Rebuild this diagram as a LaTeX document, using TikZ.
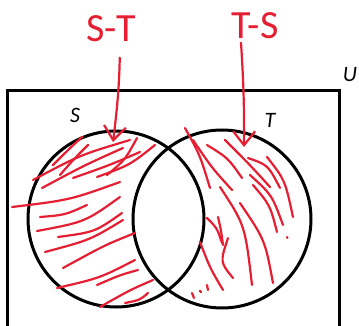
\documentclass[tikz,border=0pt]{standalone}
\usepackage{fontspec}
\usepackage{tikz}
\usetikzlibrary{arrows.meta}
\newfontfamily\vennfont{Carlito}
\definecolor{pen}{RGB}{230,30,50}

\tikzset{
  setline/.style={line width=3pt, black},
  setlabel/.style={font=\vennfont\itshape\fontsize{22}{24}\selectfont},
  scribble/.style={pen, line width=2.2pt, line cap=round},
  penlabel/.style={pen, font=\vennfont\fontsize{40}{44}\selectfont},
  penarrow/.style={pen, line width=2.2pt, line cap=round, -{Straight Barb[length=14pt,width=22pt]}}
}

\begin{document}
\begin{tikzpicture}[x=1pt, y=-1pt]
    \clip (0,0) rectangle (359,326);

    % Universe and the two sets
    \draw[setline] (7,91) rectangle (339,345);
    \draw[setline] (116,219) circle[radius=88pt];
    \draw[setline] (222,219) circle[radius=89pt];

    \node[setlabel] (lblS) at (75,115) {S};
    \node[setlabel] (lblT) at (270,120) {T};
    \node[setlabel] (lblU) at (350,75) {U};

    % Shading of S-T
    \foreach \ax/\ay/\bx/\by/\cx/\cy in {82/137/68/150/53/165, 33/180/80/155/130/140, 42/188/85/165/123/148,
        73/178/110/165/140/152, 97/177/130/165/155/145, 107/175/125/160/137/138,
        88/145/73/160/60/175, 12/207/70/200/120/182, 40/217/65/215/87/205,
        37/231/85/222/120/197, 58/237/95/232/122/213, 45/252/90/240/123/220,
        63/268/105/245/135/233, 57/288/100/278/135/260, 97/285/120/275/138/270,
        100/307/130/290/153/280, 125/303/140/300/148/293}
        \draw[scribble] (\ax,\ay) .. controls (\bx,\by) .. (\cx,\cy);

    % Shading of T-S
    \foreach \ax/\ay/\bx/\by/\cx/\cy in {185/128/200/155/210/188, 193/140/212/168/232/190, 207/145/228/158/242/178,
        225/140/250/165/270/187, 248/158/268/165/280/188, 267/157/285/180/293/217,
        250/175/272/195/283/225, 253/185/270/205/277/232, 220/187/245/225/252/285,
        240/203/265/240/273/283, 207/218/217/228/222/243, 218/217/221/230/223/245,
        228/238/220/262/233/278, 200/242/210/268/223/290}
        \draw[scribble] (\ax,\ay) .. controls (\bx,\by) .. (\cx,\cy);
    \foreach \ax/\ay/\cx/\cy in {192/293/194/298, 200/291/201/292, 207/285/208/290, 287/237/287.5/238}
        \draw[scribble] (\ax,\ay) -- (\cx,\cy);

    % Handwritten labels and arrows
    \node[penlabel] (diffST) at (111,29) {S-T};
    \node[penlabel] (diffTS) at (255,26) {T-S};
    \coordinate (endST) at (113,142);
    \coordinate (endTS) at (244,147);
    \draw[penarrow, shorten <=12pt] (diffST.south -| 120,0) to[bend left=3] (endST);
    \draw[penarrow] (diffTS.south -| 241,0) to[bend left=2] (endTS);
\end{tikzpicture}
\end{document}
